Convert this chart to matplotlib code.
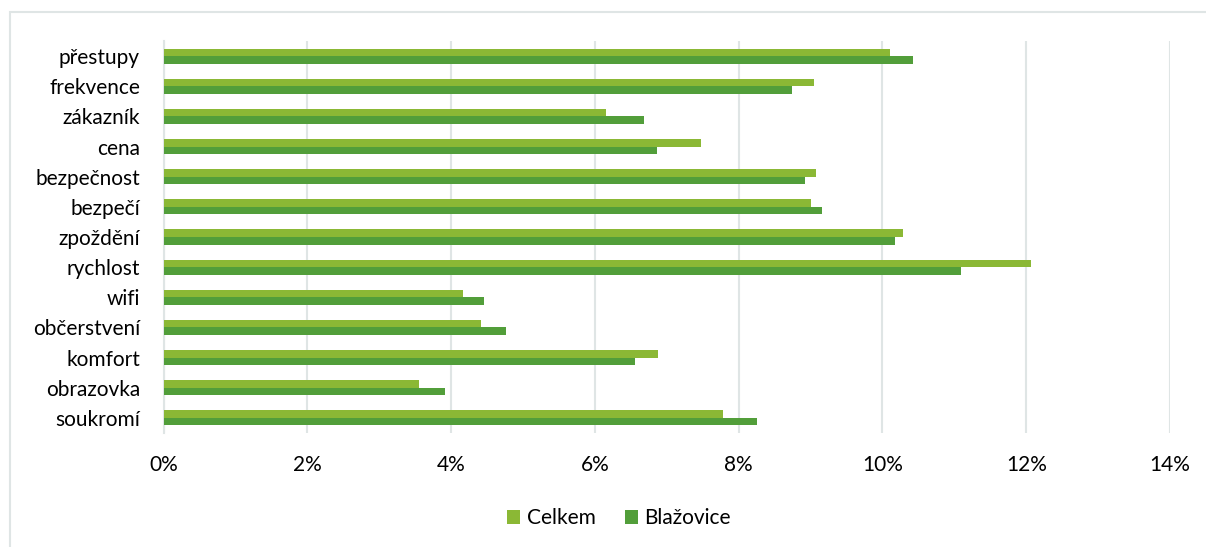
import matplotlib.pyplot as plt
from matplotlib.patches import Rectangle
from matplotlib.ticker import FuncFormatter
import numpy as np

plt.rcParams['font.family'] = ['Lato', 'DejaVu Sans']

categories = ['přestupy', 'frekvence', 'zákazník', 'cena', 'bezpečnost', 'bezpečí',
              'zpoždění', 'rychlost', 'wifi', 'občerstvení', 'komfort', 'obrazovka',
              'soukromí']
celkem = [10.11, 9.05, 6.16, 7.47, 9.07, 9.01, 10.29, 12.07, 4.17, 4.41, 6.88, 3.56, 7.78]
blazovice = [10.42, 8.74, 6.69, 6.87, 8.92, 9.16, 10.18, 11.09, 4.46, 4.76, 6.56, 3.91, 8.25]

c_light = '#8bb835'
c_dark = '#529e3a'
grid_col = '#dfe5e5'

fig = plt.figure(figsize=(12.06, 5.47), dpi=100)
fig.patches.append(Rectangle((10 / 1206, -0.1), 1.2, 1 - 12 / 547 + 0.1,
                             transform=fig.transFigure, fill=False,
                             edgecolor=grid_col, linewidth=1.5))
ax = fig.add_axes([163.5 / 1206, 1 - 433 / 547, (1170 - 163.5) / 1206, (433 - 41) / 547])

y = np.arange(len(categories))[::-1]
h = 0.25
ax.barh(y + h / 2, celkem, height=h, color=c_light, label='Celkem', zorder=3)
ax.barh(y - h / 2, blazovice, height=h, color=c_dark, label='Blažovice', zorder=3)

ax.set_xlim(0, 14)
ax.set_ylim(-0.5, len(categories) - 0.5)
ax.set_xticks(np.arange(0, 15, 2))
ax.xaxis.set_major_formatter(FuncFormatter(lambda v, _: f'{v:.0f}%'))
ax.set_yticks(y)
ax.set_yticklabels(categories)
ax.tick_params(axis='both', length=0, labelsize=15, colors='black')
ax.tick_params(axis='y', pad=17)
ax.tick_params(axis='x', pad=16)
ax.grid(axis='x', color=grid_col, linewidth=1.5, zorder=0)
for side in ['top', 'right', 'bottom']:
    ax.spines[side].set_visible(False)
ax.spines['left'].set_color(grid_col)
ax.spines['left'].set_linewidth(1.5)

fig.legend(loc='center', bbox_to_anchor=(619 / 1206, 1 - 518 / 547), ncol=2, frameon=False,
           fontsize=15, handlelength=0.65, handleheight=0.65, handletextpad=0.3,
           columnspacing=1.4)

fig.savefig('out.png', dpi=100)
